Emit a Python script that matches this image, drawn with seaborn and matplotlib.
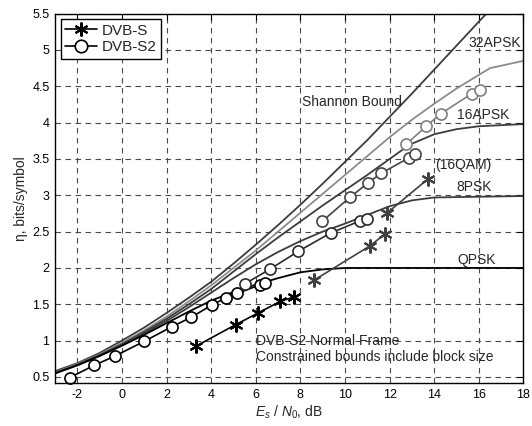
import numpy as np
import pandas as pd
import seaborn as sns
import matplotlib.pyplot as plt
from matplotlib.lines import Line2D

# Shannon bound and constrained bounds
shannon_x = [-3, -2, -1, 0, 1, 2, 3, 4, 5, 6, 7, 8, 9, 10, 11, 12, 13, 14, 15, 16, 16.8]
shannon_y = [0.58, 0.69, 0.83, 1.0, 1.18, 1.38, 1.59, 1.81, 2.06, 2.32, 2.59, 2.87, 3.16, 3.46, 3.76, 4.08, 4.40, 4.73, 5.06, 5.39, 5.65]

apsk32_x = [-3, -2, -1, 0, 1, 2, 3, 4, 5, 6, 7, 8, 9, 10, 11, 12, 13, 14, 15, 16.5, 18]
apsk32_y = [0.56, 0.68, 0.81, 0.97, 1.14, 1.33, 1.54, 1.76, 2.0, 2.24, 2.5, 2.76, 3.02, 3.28, 3.54, 3.8, 4.04, 4.26, 4.47, 4.75, 4.85]

apsk16_x = [-3, -2, -1, 0, 1, 2, 3, 4, 5, 6, 7, 8, 9, 10, 11, 12, 12.5, 13, 14, 15, 16, 18]
apsk16_y = [0.55, 0.67, 0.80, 0.95, 1.12, 1.30, 1.50, 1.71, 1.95, 2.19, 2.42, 2.64, 2.86, 3.07, 3.28, 3.5, 3.61, 3.71, 3.84, 3.91, 3.95, 3.98]

psk8_x = [-3, -2, -1, 0, 1, 2, 3, 4, 5, 6, 7, 8, 9, 10, 11, 12, 13, 14, 16, 18]
psk8_y = [0.55, 0.66, 0.79, 0.94, 1.1, 1.27, 1.46, 1.66, 1.86, 2.05, 2.22, 2.37, 2.5, 2.61, 2.73, 2.85, 2.93, 2.97, 2.98, 2.99]

qpsk_x = [-3, -2, -1, 0, 1, 2, 3, 4, 5, 6, 7, 7.5, 8, 9, 10, 12, 18]
qpsk_y = [0.55, 0.66, 0.79, 0.93, 1.08, 1.24, 1.4, 1.55, 1.67, 1.77, 1.86, 1.9, 1.94, 1.98, 2.0, 2.0, 2.0]

# DVB-S2 MODCOD points
s2_qpsk_x = [-2.35, -1.24, -0.30, 1.00, 2.23, 3.10, 4.03, 4.68, 5.18, 6.20, 6.42]
s2_qpsk_y = [0.49, 0.66, 0.79, 0.99, 1.19, 1.32, 1.49, 1.59, 1.65, 1.77, 1.79]
s2_8psk_x = [5.50, 6.62, 7.91, 9.35, 10.69, 10.98]
s2_8psk_y = [1.78, 1.98, 2.23, 2.48, 2.65, 2.68]
s2_16apsk_x = [8.97, 10.21, 11.03, 11.61, 12.89, 13.13]
s2_16apsk_y = [2.64, 2.97, 3.17, 3.30, 3.52, 3.57]
s2_32apsk_x = [12.73, 13.64, 14.28, 15.69, 16.05]
s2_32apsk_y = [3.70, 3.95, 4.12, 4.40, 4.45]

# DVB-S points
s_qpsk_x = [3.3, 5.1, 6.1, 7.1, 7.7]
s_qpsk_y = [0.92, 1.22, 1.38, 1.54, 1.60]
s_8psk_x = [8.6, 11.1, 11.8]
s_8psk_y = [1.83, 2.30, 2.47]
s_16qam_x = [11.9, 13.7]
s_16qam_y = [2.76, 3.22]

sns.set_style('white')
plt.rcParams['font.family'] = ['Liberation Sans', 'DejaVu Sans']
plt.rcParams['mathtext.fontset'] = 'custom'
plt.rcParams['mathtext.it'] = 'Liberation Sans:italic'
plt.rcParams['mathtext.rm'] = 'Liberation Sans'
plt.rcParams['axes.unicode_minus'] = False

fig = plt.figure(figsize=(5.32, 4.26), dpi=100)
ax = fig.add_axes([0.1034, 0.101, 0.8806, 0.867])

dark = '#3c3c3c'
light = '#8c8c8c'

# bounds
for xs, ys, c in [(shannon_x, shannon_y, dark), (apsk32_x, apsk32_y, light),
                  (apsk16_x, apsk16_y, dark), (psk8_x, psk8_y, dark),
                  (qpsk_x, qpsk_y, 'black')]:
    sns.lineplot(x=xs, y=ys, color=c, lw=1.3, ax=ax, estimator=None)

star = (6, 2, 0)

# DVB-S2 circles
for xs, ys, c in [(s2_qpsk_x, s2_qpsk_y, 'black'), (s2_8psk_x, s2_8psk_y, '#2a2a2a'),
                  (s2_16apsk_x, s2_16apsk_y, '#444444'), (s2_32apsk_x, s2_32apsk_y, '#808080')]:
    sns.lineplot(x=xs, y=ys, color=c, lw=1.2, marker='o', markersize=8,
                 markerfacecolor='white', markeredgecolor=c, markeredgewidth=1.2,
                 ax=ax, estimator=None, clip_on=False)

# DVB-S stars
for xs, ys, c in [(s_qpsk_x, s_qpsk_y, 'black'), (s_8psk_x, s_8psk_y, '#404040'),
                  (s_16qam_x, s_16qam_y, '#404040')]:
    sns.lineplot(x=xs, y=ys, color=c, lw=1.2, marker=star, markersize=10,
                 markeredgecolor=c, markeredgewidth=1.5, ax=ax, estimator=None)

ax.set_xlim(-3, 18)
ax.set_ylim(0.417, 5.5)
ax.set_xticks(np.arange(-2, 19, 2))
ax.set_yticks(np.arange(0.5, 5.51, 0.5))
ax.set_yticklabels(['0.5', '1', '1.5', '2', '2.5', '3', '3.5', '4', '4.5', '5', '5.5'])
ax.tick_params(direction='in', length=4, width=0.8, labelsize=9, top=True, right=True,
               colors='black', pad=4)
ax.grid(True, ls=(0, (5, 4)), color='#4a4a4a', lw=0.8)
for s in ax.spines.values():
    s.set_color('black')
    s.set_linewidth(1.0)

ax.set_xlabel(r'$E_s$ / $N_0$, dB', fontsize=10, labelpad=2)
ax.set_ylabel('η, bits/symbol', fontsize=10, labelpad=3)

fs = 10
ax.text(8.05, 4.29, 'Shannon Bound', fontsize=fs, va='center')
ax.text(15.55, 5.09, '32APSK', fontsize=fs, va='center')
ax.text(15.04, 4.10, '16APSK', fontsize=fs, va='center')
ax.text(14.02, 3.41, '(16QAM)', fontsize=fs, va='center')
ax.text(15.0, 3.12, '8PSK', fontsize=fs, va='center')
ax.text(15.04, 2.11, 'QPSK', fontsize=fs, va='center')
ax.text(6.02, 1.0, 'DVB-S2 Normal Frame', fontsize=fs, va='center')
ax.text(6.02, 0.77, 'Constrained bounds include block size', fontsize=fs, va='center')

handles = [Line2D([], [], color='black', lw=1.2, marker=star, markersize=10, markeredgewidth=1.5),
           Line2D([], [], color='black', lw=1.2, marker='o', markersize=9,
                  markerfacecolor='white', markeredgewidth=1.2)]
leg = ax.legend(handles, ['DVB-S', 'DVB-S2'], loc='upper left', bbox_to_anchor=(0.012, 0.985),
                borderaxespad=0, fontsize=11, fancybox=False, framealpha=1,
                edgecolor='black', handlelength=2.1, handletextpad=0.3,
                borderpad=0.3, labelspacing=0.15)
leg.get_frame().set_linewidth(1.0)

fig.savefig('out.png', dpi=100)
